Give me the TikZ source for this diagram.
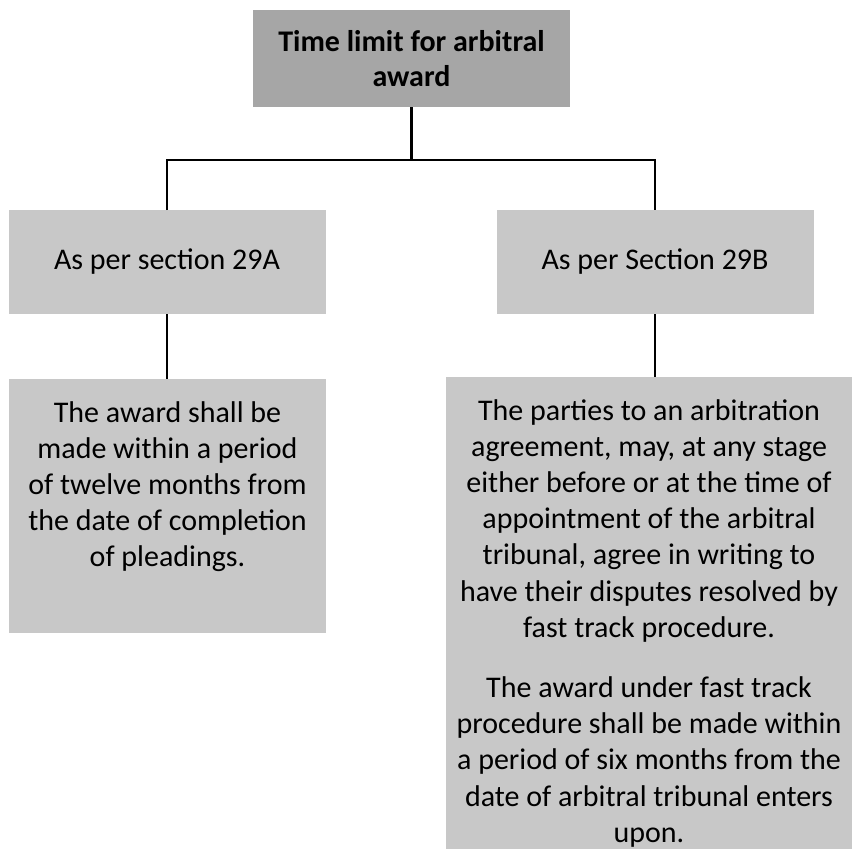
\documentclass[tikz,border=0pt]{standalone}
\usepackage{fontspec}
\setmainfont{Carlito}
\definecolor{topgray}{HTML}{A6A6A6}
\definecolor{boxgray}{HTML}{C8C8C8}
\tikzset{
  box/.style={rectangle, inner sep=0pt, outer sep=0pt, draw=none},
  txt/.style={inner sep=0pt, align=center, font=\fontsize{30}{36.2}\selectfont},
  conn/.style={line width=2.6pt, line join=miter, black}
}
\begin{document}
\begin{tikzpicture}[x=1pt,y=-1pt]
\useasboundingbox (0,0) rectangle (852,849);
\node[box, fill=topgray, minimum width=317pt, minimum height=97pt,
      font=\fontsize{30}{35}\selectfont\bfseries, align=center]
  (top) at (411.5,58.5) {Time limit for arbitral\\award};
\node[box, fill=boxgray, minimum width=317pt, minimum height=104pt,
      font=\fontsize{30}{36}\selectfont]
  (lmid) at (167,262) {As per section 29A};
\node[box, fill=boxgray, minimum width=317pt, minimum height=104pt,
      font=\fontsize{30}{36}\selectfont]
  (rmid) at (655,262) {As per Section 29B};
\node[box, fill=boxgray, minimum width=317pt, minimum height=254pt]
  (lbot) at (167.5,506) {};
\node[box, fill=boxgray, minimum width=406pt, minimum height=472pt]
  (rbot) at (649,613) {};
\node[txt, anchor=north] (ltext) at ([yshift=-22pt]lbot.north)
  {The award shall be\\made within a period\\of twelve months from\\the date of completion\\of pleadings.};
\node[txt, anchor=north] (rtext) at ([yshift=-22pt]rbot.north)
  {The parties to an arbitration\\agreement, may, at any stage\\either before or at the time of\\appointment of the arbitral\\tribunal, agree in writing to\\have their disputes resolved by\\fast track procedure.\\[24pt]The award under fast track\\procedure shall be made within\\a period of six months from the\\date of arbitral tribunal enters\\upon.};
\coordinate (hub) at (top.south |- 0,160);
\draw[conn] (top.south) -- (hub);
\draw[conn] (lmid.north) |- (hub) -| (rmid.north);
\draw[conn] (lmid.south) -- (lmid.south |- lbot.north);
\draw[conn] (rmid.south) -- (rmid.south |- rbot.north);
\end{tikzpicture}
\end{document}
